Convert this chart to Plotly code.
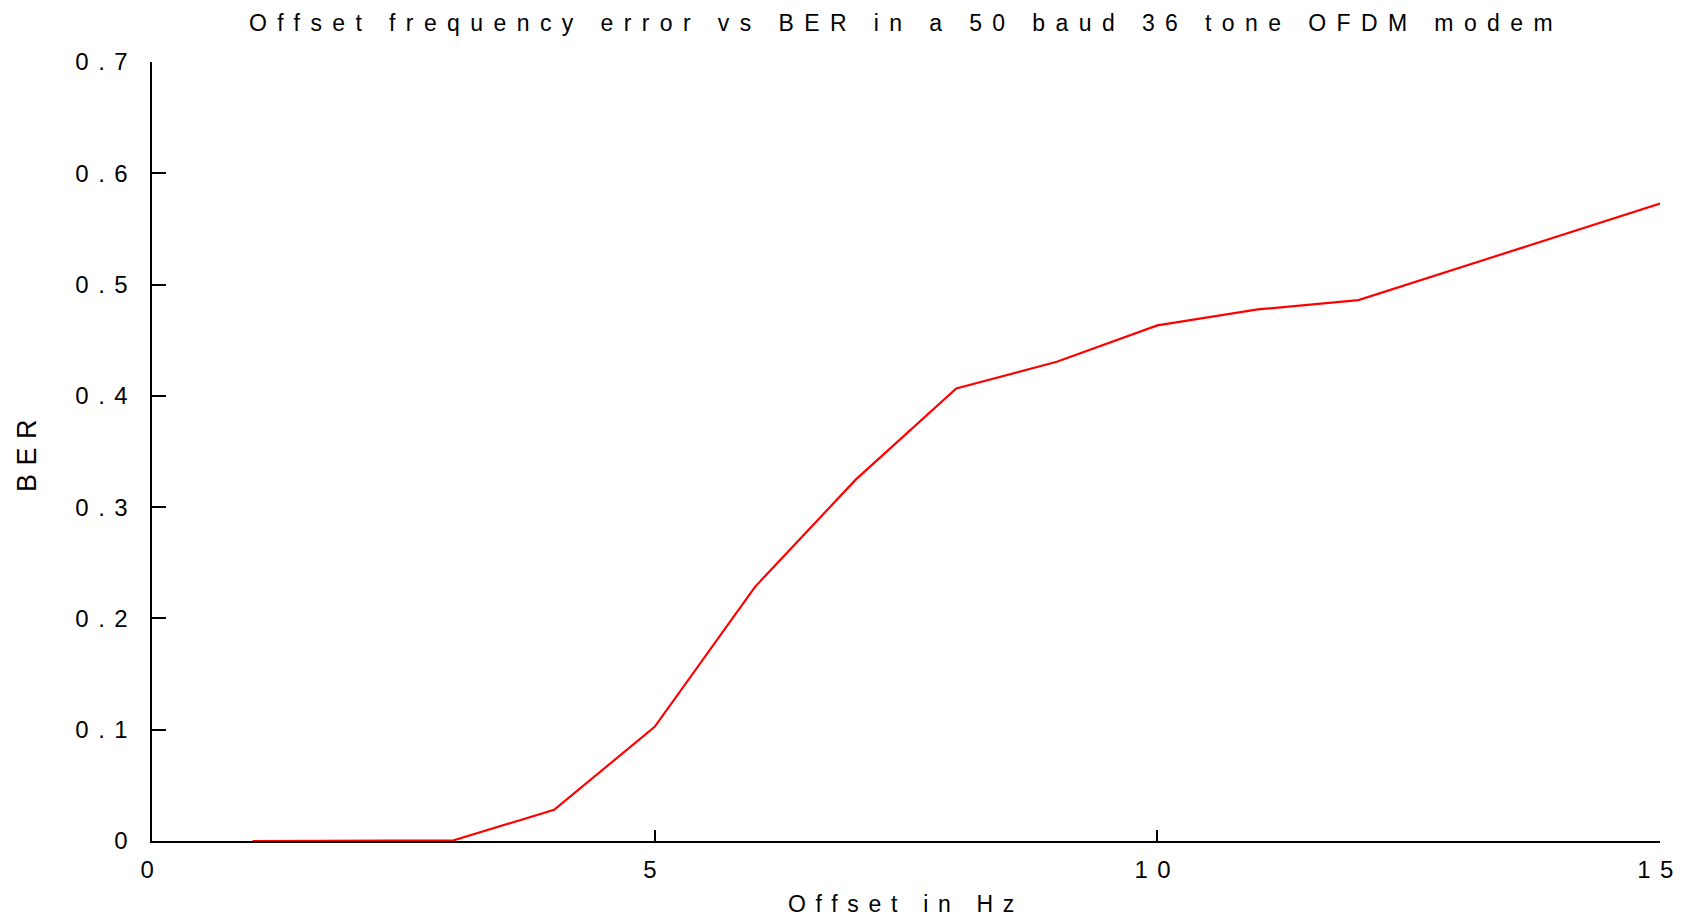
import plotly.graph_objects as go

# Data
offset_hz = [1, 2, 3, 4, 5, 6, 7, 8, 9, 10, 11, 12, 13, 14, 15]
ber = [0.0, 0.0, 0.0006, 0.028, 0.1026, 0.2286, 0.3247, 0.4066, 0.4306,
       0.4633, 0.4777, 0.486, 0.5147, 0.5437, 0.5728]

x_tick_vals = [0, 5, 10, 15]
x_tick_text = ["0", "5", "10", "15"]
y_tick_vals = [0, 0.1, 0.2, 0.3, 0.4, 0.5, 0.6, 0.7]
y_tick_text = ["0", "0.1", "0.2", "0.3", "0.4", "0.5", "0.6", "0.7"]

title_text = "Offset frequency error vs BER in a 50 baud 36 tone OFDM modem"
x_title = "Offset in Hz"
y_title = "BER"

FONT = "Liberation Sans, Arial, sans-serif"

fig = go.Figure()
fig.add_trace(go.Scatter(
    x=offset_hz, y=ber, mode="lines",
    line=dict(color="#ff0000", width=2.2),
    showlegend=False, hoverinfo="x+y",
))

fig.update_layout(
    template="none",
    width=1690, height=917,
    margin=dict(l=152, r=30, t=62, b=76, autoexpand=False),
    paper_bgcolor="white", plot_bgcolor="white",
    font=dict(family=FONT, color="black", size=22),
    title=dict(text=title_text, x=0.5, xref="paper", xanchor="center",
               y=1 - 22.5 / 917, yref="container", yanchor="middle",
               font=dict(family=FONT, size=23, color="black")),
)

fig.update_xaxes(
    range=[0, 15], tickmode="array", tickvals=x_tick_vals, ticktext=x_tick_text,
    showline=True, linecolor="black", linewidth=2, mirror=False,
    ticks="inside", ticklen=11, tickwidth=2, tickcolor="black",
    showgrid=False, zeroline=False, layer="below traces", automargin=False,
    tickfont=dict(family=FONT, size=24, color="black"),
    ticklabelstandoff=6,
    title=dict(text=x_title, font=dict(family=FONT, size=23, color="black"), standoff=15),
)
fig.update_yaxes(
    range=[0, 0.7], tickmode="array", tickvals=y_tick_vals, ticktext=y_tick_text,
    showline=True, linecolor="black", linewidth=2, mirror=False,
    ticks="inside", ticklen=14, tickwidth=2, tickcolor="black",
    showgrid=False, zeroline=False, layer="below traces", automargin=False,
    tickfont=dict(family=FONT, size=24, color="black"),
    ticklabelstandoff=8,
    title=dict(text=y_title, font=dict(family=FONT, size=27, color="black"), standoff=59),
)

post = """
var s = document.createElement('style');
s.textContent = 'html,body{margin:0;padding:0;overflow:hidden}' +
  '.gtitle{letter-spacing:10.4px}' +
  '.xtick text,.ytick text{letter-spacing:9.5px}' +
  '.xtitle{letter-spacing:9.7px}' +
  '.ytitle{letter-spacing:8.5px}';
document.head.appendChild(s);
"""

fig.write_html("out.html", post_script=post, config={"displayModeBar": False})
